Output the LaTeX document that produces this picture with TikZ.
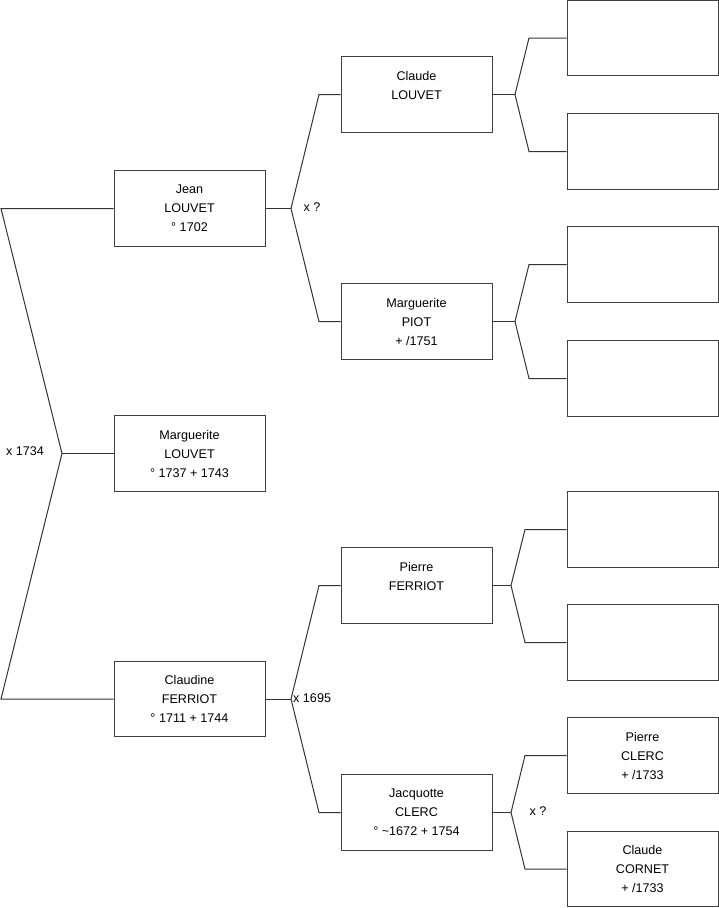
\documentclass[tikz,border=0pt]{standalone}
\usepackage{fontspec}
\setmainfont{Liberation Sans}
\begin{document}
\begin{tikzpicture}[x=1pt,y=-1pt,
    personne/.style={draw=black!75, line width=1pt, minimum width=151pt, minimum height=75.5pt,
      inner sep=0pt, align=center, font=\fontsize{12.6}{19}\selectfont},
    lien/.style={draw=black!80, line width=1pt},
    union/.style={font=\fontsize{12.6}{14}\selectfont, inner sep=0pt}]
    \useasboundingbox (0,0) rectangle (719,908);

    % generation 1
    \node[personne] (jean) at (189.5,208.5) {Jean\\LOUVET\\° 1702};
    \node[personne] (margL) at (189.5,453.5) {Marguerite\\LOUVET\\° 1737 + 1743};
    \node[personne] (claudine) at (189.5,699) {Claudine\\FERRIOT\\° 1711 + 1744};

    % generation 2
    \node[personne] (claude) at (416.5,94.5) {Claude\\LOUVET\\\mbox{}};
    \node[personne] (margP) at (416.5,321.5) {Marguerite\\PIOT\\+ /1751};
    \node[personne] (pierreF) at (416.5,585.5) {Pierre\\FERRIOT\\\mbox{}};
    \node[personne] (jacquotte) at (416.5,812.5) {Jacquotte\\CLERC\\° \textasciitilde1672 + 1754};

    % generation 3
    \foreach \n/\y in {a1/38,a2/151.5,a3/264.5,a4/378.5,a5/529.5,a6/642.5}
        \node[personne] (\n) at (642.5,\y) {};
    \node[personne] (pierreC) at (642.5,755.5) {Pierre\\CLERC\\+ /1733};
    \node[personne] (claudeC) at (642.5,869) {Claude\\CORNET\\+ /1733};

    % unions
    \coordinate (u0) at (62,453.5);
    \coordinate (u0h) at (1,208.5);
    \coordinate (u0b) at (1,699);
    \draw[lien] (jean.west) -- (u0h) -- (u0) -- (u0b) -- (claudine.west);
    \draw[lien] (u0) -- (margL.west);
    \node[union] (x0) at (25,451) {x 1734};

    \coordinate (u1) at (291,208.5);
    \coordinate (u1h) at (319,94.5);
    \coordinate (u1b) at (319,321.5);
    \draw[lien] (claude.west) -- (u1h) -- (u1) -- (u1b) -- (margP.west);
    \draw[lien] (u1) -- (jean.east);
    \node[union] (x1) at (312,207.5) {x ?};

    \coordinate (u2) at (291,699);
    \coordinate (u2h) at (319,585.5);
    \coordinate (u2b) at (319,812.5);
    \draw[lien] (pierreF.west) -- (u2h) -- (u2) -- (u2b) -- (jacquotte.west);
    \draw[lien] (u2) -- (claudine.east);
    \node[union, anchor=west] (x2) at (293,698) {x 1695};

    \coordinate (u3) at (515,94.5);
    \coordinate (u3h) at (529,38);
    \coordinate (u3b) at (529,151.5);
    \draw[lien] (a1.west) -- (u3h) -- (u3) -- (u3b) -- (a2.west);
    \draw[lien] (u3) -- (claude.east);

    \coordinate (u4) at (515,321.5);
    \coordinate (u4h) at (529,264.5);
    \coordinate (u4b) at (529,378.5);
    \draw[lien] (a3.west) -- (u4h) -- (u4) -- (u4b) -- (a4.west);
    \draw[lien] (u4) -- (margP.east);

    \coordinate (u5) at (511,585.5);
    \coordinate (u5h) at (525,529.5);
    \coordinate (u5b) at (525,642.5);
    \draw[lien] (a5.west) -- (u5h) -- (u5) -- (u5b) -- (a6.west);
    \draw[lien] (u5) -- (pierreF.east);

    \coordinate (u6) at (511,812.5);
    \coordinate (u6h) at (525,755.5);
    \coordinate (u6b) at (525,869);
    \draw[lien] (pierreC.west) -- (u6h) -- (u6) -- (u6b) -- (claudeC.west);
    \draw[lien] (u6) -- (jacquotte.east);
    \node[union] (x3) at (538,811) {x ?};
\end{tikzpicture}
\end{document}
